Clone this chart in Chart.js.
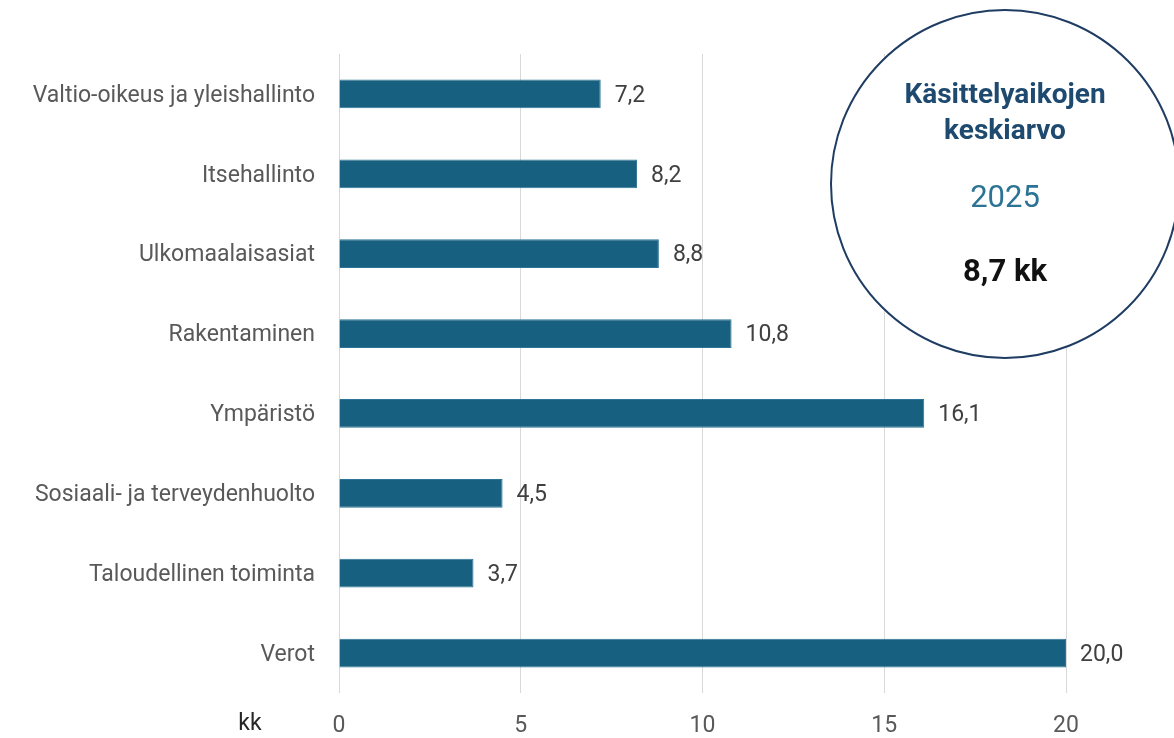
<!DOCTYPE html>
<html>
<head>
<meta charset="utf-8">
<script src="https://cdn.jsdelivr.net/npm/chart.js@4"></script>
<style>
  html, body { margin: 0; padding: 0; background: #fff; }
  #wrap { width: 1174px; height: 738px; }
</style>
</head>
<body>
<div id="wrap"><canvas id="BarChartTimes"></canvas></div>
<script>
const categories = [
    'Valtio-oikeus ja yleishallinto',
    'Itsehallinto',
    'Ulkomaalaisasiat',
    'Rakentaminen',
    'Ympäristö',
    'Sosiaali- ja terveydenhuolto',
    'Taloudellinen toiminta',
    'Verot'
];
const months = [7.2, 8.2, 8.8, 10.8, 16.1, 4.5, 3.7, 20.0];
const xTicks = [0, 5, 10, 15, 20];
const unitLabel = 'kk';
const circleLines = ['Käsittelyaikojen', 'keskiarvo'];
const circleYear = '2025';
const circleValue = '8,7 kk';

const fontFamily = 'Roboto, "Open Sans", sans-serif';

// value labels at the end of each bar
const valueLabels = {
    id: 'valueLabels',
    afterDatasetsDraw(chart) {
        const ctx = chart.ctx;
        const meta = chart.getDatasetMeta(0);
        ctx.save();
        ctx.font = '23px ' + fontFamily;
        ctx.fillStyle = '#404040';
        ctx.textAlign = 'left';
        ctx.textBaseline = 'middle';
        meta.data.forEach((bar, i) => {
            ctx.fillText(months[i].toFixed(1).replace('.', ','), bar.x + 14, bar.y + 2);
        });
        ctx.restore();
    }
};

// "kk" unit label and the average circle
const extras = {
    id: 'extras',
    afterDraw(chart) {
        const ctx = chart.ctx;
        const xScale = chart.scales.x;
        ctx.save();
        ctx.font = '23px ' + fontFamily;
        ctx.fillStyle = '#262626';
        ctx.textAlign = 'center';
        ctx.textBaseline = 'middle';
        ctx.fillText(unitLabel, xScale.getPixelForValue(0) - 89, 724);

        const cx = 1005, cy = 184, r = 174;
        ctx.beginPath();
        ctx.arc(cx, cy, r, 0, Math.PI * 2);
        ctx.fillStyle = '#ffffff';
        ctx.fill();
        ctx.lineWidth = 2;
        ctx.strokeStyle = '#1f3d63';
        ctx.stroke();

        ctx.fillStyle = '#1f4a70';
        ctx.font = 'bold 28px ' + fontFamily;
        ctx.fillText(circleLines[0], cx, 96);
        ctx.fillText(circleLines[1], cx, 132);
        ctx.fillStyle = '#2c7394';
        ctx.font = '31px ' + fontFamily;
        ctx.fillText(circleYear, cx, 199);
        ctx.fillStyle = '#111111';
        ctx.font = 'bold 31px ' + fontFamily;
        ctx.fillText(circleValue, cx, 273);
        ctx.restore();
    }
};

const ctx = document.getElementById('BarChartTimes').getContext('2d');
new Chart(ctx, {
    type: 'bar',
    data: {
        labels: categories,
        datasets: [{
            data: months,
            backgroundColor: '#17607f',
            borderColor: '#2d7395',
            borderWidth: 1,
            barPercentage: 0.72,
            categoryPercentage: 0.5
        }]
    },
    options: {
        indexAxis: 'y',
        responsive: true,
        maintainAspectRatio: false,
        animation: false,
        layout: { padding: { top: 54, right: 108, bottom: 0, left: 0 } },
        plugins: {
            legend: { display: false },
            tooltip: { enabled: false }
        },
        scales: {
            x: {
                min: 0,
                max: 20,
                afterBuildTicks: scale => { scale.ticks = xTicks.map(v => ({ value: v })); },
                afterFit: scale => { scale.height = 45; },
                grid: { color: '#d9d9d9', drawTicks: false },
                border: { display: false },
                ticks: {
                    padding: 19,
                    color: '#595959',
                    font: { family: fontFamily, size: 23 }
                }
            },
            y: {
                afterFit: scale => { scale.width = 339; },
                grid: { display: false, drawTicks: false },
                border: { display: false },
                ticks: {
                    padding: 24,
                    labelOffset: 2,
                    color: '#595959',
                    font: { family: fontFamily, size: 23 }
                }
            }
        }
    },
    plugins: [valueLabels, extras]
});
</script>
</body>
</html>
